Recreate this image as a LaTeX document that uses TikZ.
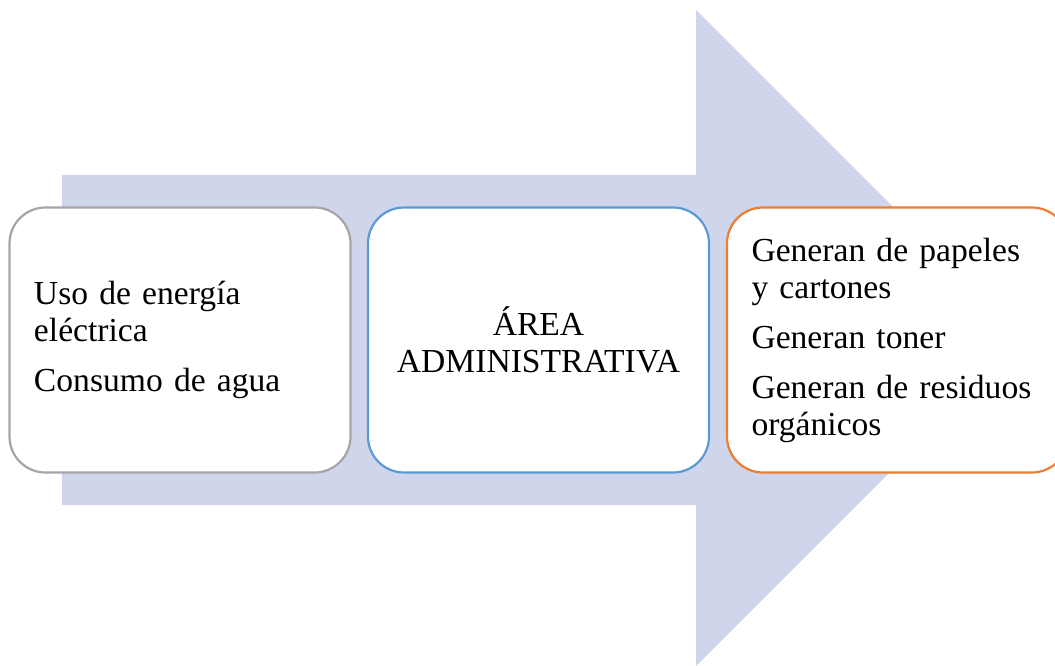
\documentclass[tikz,border=0pt]{standalone}
\usepackage{fontspec}
\setmainfont{Liberation Serif}
\definecolor{arrowfill}{HTML}{CFD5EA}
\definecolor{grayline}{HTML}{A5A5A5}
\definecolor{blueline}{HTML}{5B9BD5}
\definecolor{orangeline}{HTML}{ED7D31}
\begin{document}
\begin{tikzpicture}[x=1bp,y=-1bp,
  card/.style={draw, fill=white, line width=2.2bp, rounded corners=36bp,
    minimum width=341bp, minimum height=265bp, inner sep=0pt,
    font=\fontsize{33.6bp}{37bp}\selectfont},
  listcard/.style={card, text width=292bp, align=left},
  titlecard/.style={card, align=center}]
\useasboundingbox (0,0) rectangle (1055,666);
\clip (0,0) rectangle (1055,666);
% large background arrow
\fill[arrowfill] (62,175) -- (696,175) -- (696,10) -- (1024,338)
  -- (696,666) -- (696,505) -- (62,505) -- cycle;
% three stages
\node[listcard, draw=grayline] (inputs) at (180,340)
  {Uso de energía\\eléctrica\\[13bp]Consumo de agua};
\node[titlecard, draw=blueline] (area) at (538.5,340)
  {ÁREA\\ADMINISTRATIVA};
\node[listcard, draw=orangeline] (outputs) at (897.5,340)
  {Generan de papeles\\y cartones\\[13bp]Generan toner\\[13bp]Generan de residuos\\orgánicos};
\end{tikzpicture}
\end{document}
